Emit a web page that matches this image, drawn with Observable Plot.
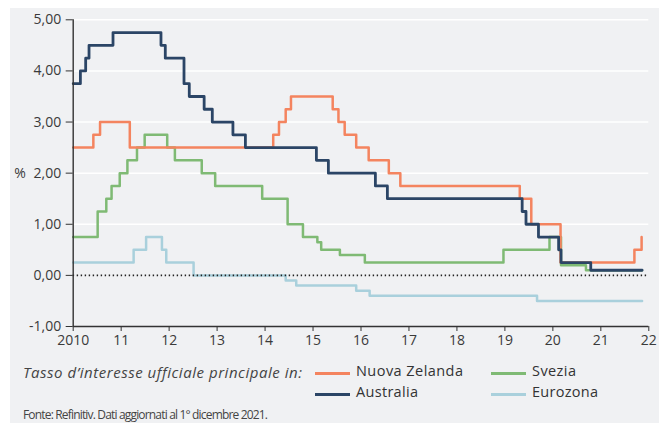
<!DOCTYPE html>
<html>
<head>
<meta charset="utf-8">
<script src="https://cdn.jsdelivr.net/npm/d3@7"></script>
<script src="https://cdn.jsdelivr.net/npm/@observablehq/plot@0.6"></script>
<style>
  body { margin: 0; background: #ffffff; font-family: "Open Sans", sans-serif; }
  #panel { position: absolute; left: 10px; top: 8px; width: 649px; height: 415px; background: #f0f1f3; }
  #chart { position: absolute; left: 0; top: 0; }
  .lg { position: absolute; font-size: 14.5px; color: #333; white-space: nowrap; line-height: 1; }
  .title { font-style: italic; color: #444; font-size: 15px; }
  .sw { position: absolute; height: 3px; }
  .cap { position: absolute; font-size: 12px; color: #444; white-space: nowrap; line-height: 1; }
</style>
</head>
<body>
<div id="panel"></div>
<div id="chart"></div>
<div id="legend"></div>
<script>
// ---- Data (fractional years, policy rate in %) ----
const nzX = [2010, 2010.42, 2010.56, 2011.18, 2014.17, 2014.29, 2014.43, 2014.54, 2015.41, 2015.53, 2015.66, 2015.90, 2016.16, 2016.58, 2016.82, 2019.31, 2019.55, 2020.16, 2021.70, 2021.85];
const nzY = [2.50, 2.75, 3.00, 2.50, 2.75, 3.00, 3.25, 3.50, 3.25, 3.00, 2.75, 2.50, 2.25, 2.00, 1.75, 1.50, 1.00, 0.25, 0.50, 0.75];

const auX = [2010, 2010.15, 2010.26, 2010.33, 2010.83, 2011.83, 2011.92, 2012.31, 2012.42, 2012.73, 2012.90, 2013.33, 2013.59, 2015.07, 2015.32, 2016.30, 2016.55, 2019.36, 2019.44, 2019.70, 2020.12, 2020.17, 2020.79, 2021.86];
const auY = [3.75, 4.00, 4.25, 4.50, 4.75, 4.50, 4.25, 3.75, 3.50, 3.25, 3.00, 2.75, 2.50, 2.25, 2.00, 1.75, 1.50, 1.25, 1.00, 0.75, 0.50, 0.25, 0.10, 0.10];

const seX = [2010, 2010.51, 2010.69, 2010.80, 2010.97, 2011.13, 2011.33, 2011.49, 2011.96, 2012.12, 2012.68, 2012.96, 2013.94, 2014.47, 2014.79, 2015.09, 2015.17, 2015.56, 2016.08, 2018.97, 2019.93, 2020.17, 2020.69, 2021.86];
const seY = [0.75, 1.25, 1.50, 1.75, 2.00, 2.25, 2.50, 2.75, 2.50, 2.25, 2.00, 1.75, 1.50, 1.00, 0.75, 0.65, 0.50, 0.40, 0.25, 0.50, 0.75, 0.20, 0.10, 0.10];

const ezX = [2010, 2011.26, 2011.52, 2011.85, 2011.94, 2012.51, 2014.43, 2014.65, 2015.90, 2016.18, 2019.67, 2021.86];
const ezY = [0.25, 0.50, 0.75, 0.50, 0.25, 0.00, -0.10, -0.20, -0.30, -0.40, -0.50, -0.50];

const seriesNames = ["Nuova Zelanda", "Australia", "Svezia", "Eurozona"];
const seriesColors = ["#f4845f", "#2b4566", "#7fba74", "#a9d0dc"];

const xTicks = [2010, 2011, 2012, 2013, 2014, 2015, 2016, 2017, 2018, 2019, 2020, 2021, 2022];
const xTickLabels = ["2010", "11", "12", "13", "14", "15", "16", "17", "18", "19", "20", "21", "22"];
const yTicks = [-1, 0, 1, 2, 3, 4, 5];
const gridValues = [1, 2, 3, 4, 5];

const legendTitle = "Tasso d\u2019interesse ufficiale principale in:";
const captionText = "Fonte: Refinitiv. Dati aggiornati al 1\u00b0 dicembre 2021.";

// ---- Build tables ----
const toRows = (xs, ys) => xs.map((x, i) => ({x, y: ys[i]}));
const nz = toRows(nzX, nzY), au = toRows(auX, auY), se = toRows(seX, seY), ez = toRows(ezX, ezY);

const fmtY = d => d.toFixed(2).replace(".", ",");
const FONT = "'Open Sans', sans-serif";

const chart = Plot.plot({
  width: 664,
  height: 352,
  marginLeft: 72.7,
  marginRight: 15.7,
  marginTop: 19.3,
  marginBottom: 26,
  style: {background: "transparent", fontFamily: FONT, color: "#3a3a3a", overflow: "visible"},
  x: {type: "linear", domain: [2010, 2022]},
  y: {domain: [-1, 5]},
  marks: [
    Plot.ruleY(gridValues, {stroke: "#ffffff", strokeWidth: 1.5}),
    Plot.line(ez, {x: "x", y: "y", curve: "step-after", stroke: seriesColors[3], strokeWidth: 2.5}),
    Plot.line(se, {x: "x", y: "y", curve: "step-after", stroke: seriesColors[2], strokeWidth: 2.5}),
    Plot.line(nz, {x: "x", y: "y", curve: "step-after", stroke: seriesColors[0], strokeWidth: 2.5}),
    Plot.line(au, {x: "x", y: "y", curve: "step-after", stroke: seriesColors[1], strokeWidth: 2.8}),
    Plot.ruleY([0], {stroke: "#222", strokeWidth: 1.6, strokeDasharray: "1.4,2.6"}),
    Plot.ruleX([2010], {stroke: "#333", strokeWidth: 1.4}),
    Plot.ruleY([-1], {stroke: "#333", strokeWidth: 1.4}),
    Plot.axisY({ticks: yTicks, tickFormat: fmtY, tickSize: 7, tickPadding: 5, fontSize: 14, label: null, stroke: "#333"}),
    Plot.axisX({ticks: xTicks, tickFormat: (d) => xTickLabels[xTicks.indexOf(d)], tickSize: 5, tickPadding: 4, fontSize: 14, label: null, stroke: "#333"}),
    Plot.text(["%"], {frameAnchor: "left", y: [2], dx: -59, textAnchor: "start", fontSize: 14, fill: "#3a3a3a"})
  ]
});
document.getElementById("chart").appendChild(chart);

// ---- Legend (HTML) ----
const lg = document.getElementById("legend");
function addText(txt, left, top, cls, targetW) {
  const d = document.createElement("div");
  d.className = cls;
  d.textContent = txt;
  d.style.left = left + "px";
  d.style.top = top + "px";
  lg.appendChild(d);
  if (targetW) {
    const w = d.getBoundingClientRect().width;
    const ls = (targetW - w) / Math.max(1, txt.length - 1);
    d.style.letterSpacing = ls.toFixed(3) + "px";
  }
}
function addSwatch(color, left, top, w) {
  const d = document.createElement("div");
  d.className = "sw";
  d.style.background = color;
  d.style.left = left + "px";
  d.style.top = top + "px";
  d.style.width = w + "px";
  lg.appendChild(d);
}
addText(legendTitle, 23, 365, "lg title", 279);
const cols = [[315, 356], [491, 532]];
const rows = [372, 393];
const nameWidths = [107, 62, 44, 66];
const order = [[0, 0, 0], [1, 0, 1], [2, 1, 0], [3, 1, 1]]; // series, col, row
order.forEach(([s, c, r]) => {
  addSwatch(seriesColors[s], cols[c][0], rows[r], 35);
  addText(seriesNames[s], cols[c][1], rows[r] - 8, "lg", nameWidths[s]);
});
addText(captionText, 23, 409, "cap", 245);
</script>
</body>
</html>
